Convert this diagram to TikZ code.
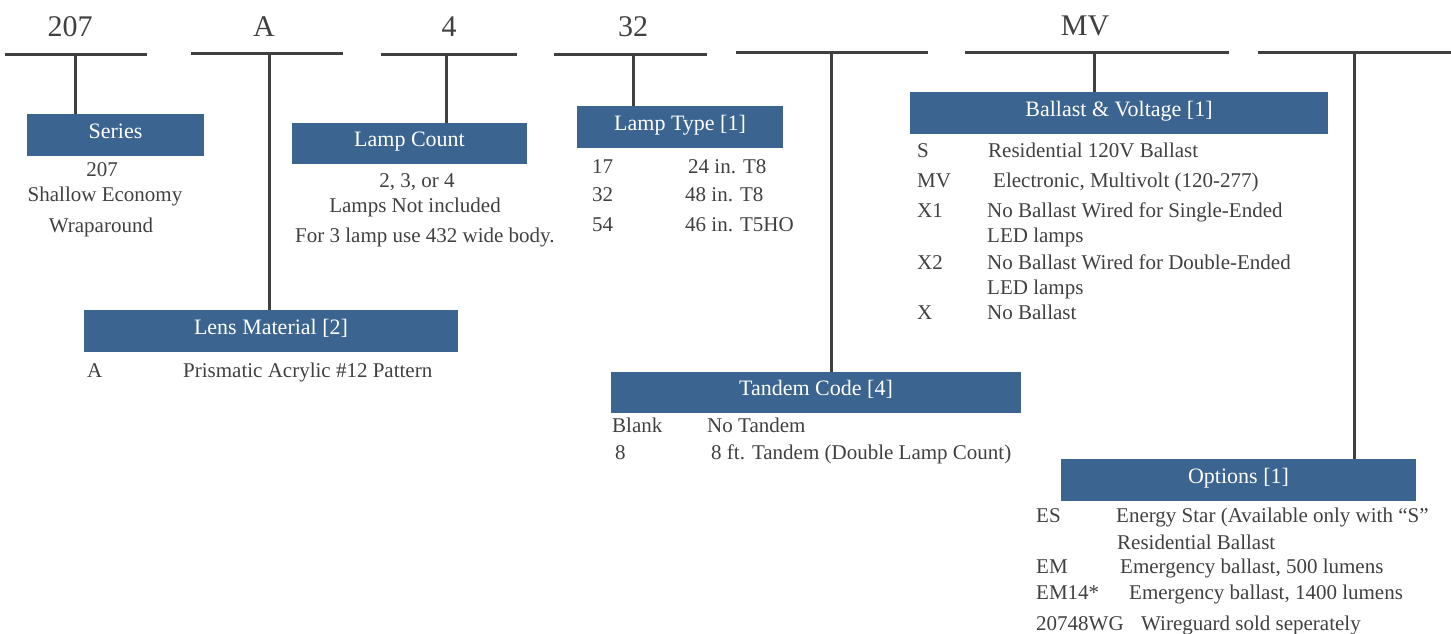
\documentclass[tikz,border=0pt]{standalone}
\usepackage{fontspec}
\setmainfont{Liberation Serif}
\definecolor{boxblue}{HTML}{3C6490}
\definecolor{ink}{HTML}{404040}
\begin{document}
\begin{tikzpicture}[x=1pt,y=-1pt,
  bar/.style={draw=ink, line width=3pt},
  hdr/.style={fill=boxblue, text=white, inner sep=0pt, font=\fontsize{22}{26}\selectfont, text height=15pt, text depth=9pt},
  txt/.style={text=ink, inner sep=0pt, anchor=base west, font=\fontsize{21}{24}\selectfont},
  ctxt/.style={txt, anchor=base},
  toplbl/.style={text=ink, inner sep=0pt, anchor=base, font=\fontsize{30}{34}\selectfont}]
\useasboundingbox (0,0) rectangle (1451,633);
% top labels
\node[toplbl] (l1) at (70,36) {207};
\node[toplbl] (l2) at (264,36) {A};
\node[toplbl] (l3) at (449,36) {4};
\node[toplbl] (l4) at (633,36) {32};
\node[toplbl] (l6) at (1085,35) {MV};
% bars
\coordinate (b1a) at (5,54);   \coordinate (b1b) at (147,54);
\coordinate (b2a) at (191,53); \coordinate (b2b) at (343,53);
\coordinate (b3a) at (381,54); \coordinate (b3b) at (517,54);
\coordinate (b4a) at (554,54); \coordinate (b4b) at (707,54);
\coordinate (b5a) at (736,52); \coordinate (b5b) at (928,52);
\coordinate (b6a) at (965,52); \coordinate (b6b) at (1229,52);
\coordinate (b7a) at (1258,52); \coordinate (b7b) at (1451,52);
\foreach \i in {1,...,7} {\draw[bar] (b\i a) -- (b\i b);}
% boxes
\node[hdr, minimum width=177pt, minimum height=42pt] (series) at (115.5,135) {Series};
\node[hdr, minimum width=235pt, minimum height=41pt] (lampcount) at (409.5,143.5) {Lamp Count};
\node[hdr, minimum width=206pt, minimum height=42pt] (lamptype) at (680,127) {Lamp Type [1]};
\node[hdr, minimum width=418pt, minimum height=42pt] (ballast) at (1119,113) {Ballast \& Voltage [1]};
\node[hdr, minimum width=374pt, minimum height=42pt] (lens) at (271,331) {Lens Material [2]};
\node[hdr, minimum width=410pt, minimum height=41pt] (tandem) at (816,392.5) {Tandem Code [4]};
\node[hdr, minimum width=355pt, minimum height=42pt] (options) at (1238.5,480) {Options [1]};
% verticals
\coordinate (v1) at (75,54);
\coordinate (v2) at (269,53);
\coordinate (v3) at (446,54);
\coordinate (v4) at (633,54);
\coordinate (v5) at (831,52);
\coordinate (v6) at (1094,52);
\coordinate (v7) at (1354,52);
\draw[bar] (v1) -- (v1 |- series.north);
\draw[bar] (v2) -- (v2 |- lens.north);
\draw[bar] (v3) -- (v3 |- lampcount.north);
\draw[bar] (v4) -- (v4 |- lamptype.north);
\draw[bar] (v5) -- (v5 |- tandem.north);
\draw[bar] (v6) -- (v6 |- ballast.north);
\draw[bar] (v7) -- (v7 |- options.north);
% series text
\node[ctxt] (s1) at (102,176) {207};
\node[ctxt] (s2) at (105,201) {Shallow Economy};
\node[ctxt] (s3) at (101,232) {Wraparound};
% lamp count text
\node[ctxt] (c1) at (417,187) {2, 3, or 4};
\node[ctxt] (c2) at (415,212) {Lamps Not included};
\node[txt] (c3) at (295,242) {For 3 lamp use 432 wide body.};
% lamp type text
\node[txt] (t1) at (592,173) {17};
\node[txt] (t1d) at (688,173) {24 in. T8};
\node[txt] (t2) at (592,201) {32};
\node[txt] (t2d) at (685,201) {48 in. T8};
\node[txt] (t3) at (592,231) {54};
\node[txt] (t3d) at (685,231) {46 in. T5HO};
% ballast text
\node[txt] (a1) at (917,157) {S};
\node[txt] (a1d) at (988,157) {Residential 120V Ballast};
\node[txt] (a2) at (917,187) {MV};
\node[txt] (a2d) at (993,187) {Electronic, Multivolt (120-277)};
\node[txt] (a3) at (917,217) {X1};
\node[txt] (a3d) at (987,217) {No Ballast Wired for Single-Ended};
\node[txt] (a3e) at (987,242) {LED lamps};
\node[txt] (a4) at (917,269) {X2};
\node[txt] (a4d) at (987,269) {No Ballast Wired for Double-Ended};
\node[txt] (a4e) at (987,294) {LED lamps};
\node[txt] (a5) at (917,319) {X};
\node[txt] (a5d) at (987,319) {No Ballast};
% lens text
\node[txt] (n1) at (87,377) {A};
\node[txt] (n1d) at (183,377) {Prismatic Acrylic \#12 Pattern};
% tandem text
\node[txt] (d1) at (612,432) {Blank};
\node[txt] (d1d) at (707,432) {No Tandem};
\node[txt] (d2) at (615,459) {8};
\node[txt] (d2d) at (711,459) {8 ft. Tandem (Double Lamp Count)};
% options text
\node[txt] (o1) at (1036,522) {ES};
\node[txt] (o1d) at (1116,522) {Energy Star (Available only with “S”};
\node[txt] (o1e) at (1117,549) {Residential Ballast};
\node[txt] (o2) at (1036,573) {EM};
\node[txt] (o2d) at (1120,573) {Emergency ballast, 500 lumens};
\node[txt] (o3) at (1036,599) {EM14*};
\node[txt] (o3d) at (1129,599) {Emergency ballast, 1400 lumens};
\node[txt] (o4) at (1036,630) {20748WG};
\node[txt] (o4d) at (1141,630) {Wireguard sold seperately};
\end{tikzpicture}
\end{document}
